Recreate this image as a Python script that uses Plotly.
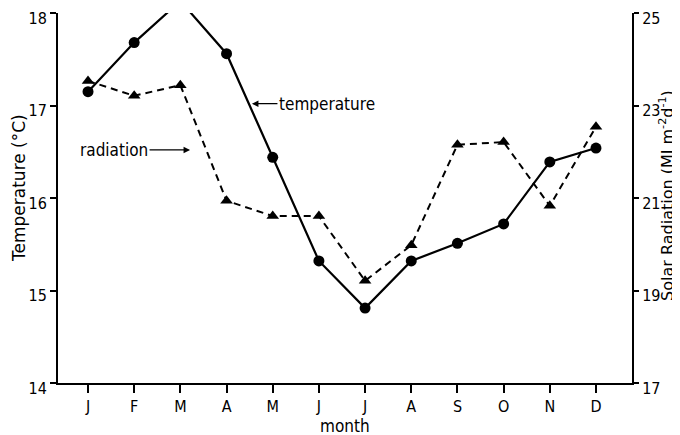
import plotly.graph_objects as go

months = ["J", "F", "M", "A", "M", "J", "J", "A", "S", "O", "N", "D"]
temperature = [17.15, 17.68, 18.13, 17.56, 16.44, 15.32, 14.81, 15.32, 15.51, 15.72, 16.39, 16.54]
radiation = [23.53, 23.21, 23.44, 20.94, 20.61, 20.61, 19.21, 19.98, 22.15, 22.21, 20.83, 22.54]
temp_ticks = [14, 15, 16, 17, 18]
rad_ticks = [17, 19, 21, 23, 25]

FONT = "DejaVu Sans Condensed, Liberation Sans Narrow, DejaVu Sans, sans-serif"
TITLE_FONT = "DejaVu Sans, sans-serif"
idx = list(range(len(months)))

fig = go.Figure()
fig.add_trace(go.Scatter(
    x=idx, y=temperature, mode="lines+markers", name="temperature",
    line=dict(color="black", width=2.2),
    marker=dict(symbol="circle", size=11, color="black"),
    cliponaxis=False, showlegend=False))
fig.add_trace(go.Scatter(
    x=idx, y=radiation, mode="lines+markers", name="radiation", yaxis="y2",
    line=dict(color="black", width=2, dash="7px,5px"),
    marker=dict(symbol="triangle-up", size=11, color="black"),
    cliponaxis=False, showlegend=False))

fig.update_layout(
    width=680, height=435,
    margin=dict(l=50, r=56, t=5, b=60, autoexpand=False),
    plot_bgcolor="white", paper_bgcolor="white",
    font=dict(family=FONT, size=16, color="black"),
    xaxis=dict(
        range=[-0.65, 11.78], tickvals=idx, ticktext=months, automargin=False,
        showline=True, linecolor="black", linewidth=2,
        ticks="outside", ticklen=8, tickwidth=2, tickcolor="black",
        showgrid=False, zeroline=False,
    ),
    yaxis=dict(
        range=[14, 18], tickvals=temp_ticks, automargin=False,
        showline=True, linecolor="black", linewidth=2,
        ticks="outside", ticklen=6, tickwidth=2, tickcolor="black",
        showgrid=False, zeroline=False, ticklabeloverflow="allow",
        ticklabelshift=5,
    ),
    yaxis2=dict(
        range=[17, 25], tickvals=rad_ticks, overlaying="y", side="right", automargin=False,
        showline=True, linecolor="black", linewidth=2,
        ticks="outside", ticklen=5, tickwidth=2, tickcolor="black",
        showgrid=False, zeroline=False, ticklabeloverflow="allow",
        ticklabelshift=5,
    ),
)

# axis titles
fig.add_annotation(x=0.5, y=-0.117, xref="paper", yref="paper", text="month",
                   showarrow=False, font=dict(size=17), xanchor="center", yanchor="middle")
fig.add_annotation(x=-0.068, y=0.527, xref="paper", yref="paper", text="Temperature (°C)",
                   showarrow=False, textangle=-90, font=dict(family=TITLE_FONT, size=17),
                   xanchor="center", yanchor="middle")
fig.add_annotation(x=1.059, y=0.508, xref="paper", yref="paper",
                   text="Solar Radiation (MJ m<sup>-2</sup>d<sup>-1</sup>)",
                   showarrow=False, textangle=-90, font=dict(family=TITLE_FONT, size=16),
                   xanchor="center", yanchor="middle")

# line labels
fig.add_annotation(
    x=3.55, y=17.02, xref="x", yref="y", text="temperature",
    showarrow=True, ax=75, ay=0, arrowhead=2, arrowsize=1, arrowwidth=1.3,
    arrowcolor="black", font=dict(size=17), standoff=0)
fig.add_annotation(
    x=2.21, y=16.52, xref="x", yref="y", text="radiation",
    showarrow=True, ax=-76, ay=0, arrowhead=2, arrowsize=1, arrowwidth=1.3,
    arrowcolor="black", font=dict(size=17), standoff=0)

fig.write_html("out.html")
